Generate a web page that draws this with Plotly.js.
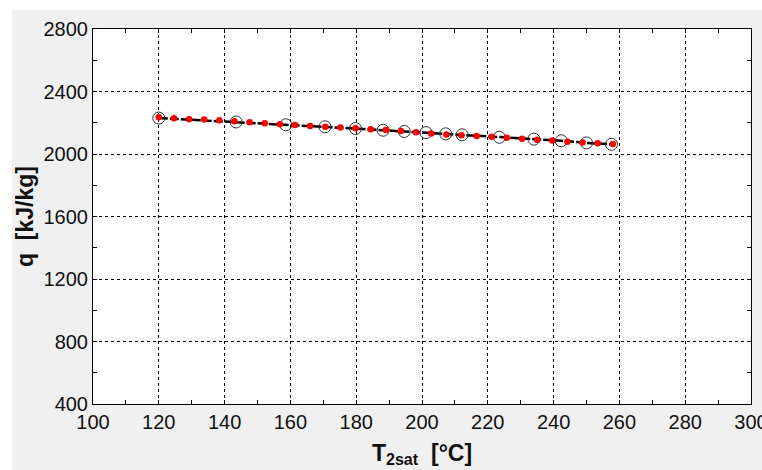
<!DOCTYPE html>
<html>
<head>
<meta charset="utf-8">
<script src="https://cdn.plot.ly/plotly-3.0.1.min.js"></script>
<style>
html,body{margin:0;padding:0;background:#ffffff;}
#chart{position:absolute;left:12px;top:10px;width:750px;height:460px;}
</style>
</head>
<body>
<div id="chart"></div>
<script>
// Open-circle series (black line)
var circT = [120, 143.5, 158.6, 170.5, 179.8, 188.2, 194.6, 201.2, 207.2, 212.2, 223.5, 234, 242.3, 250, 257.6];
var circQ = [2230, 2205, 2187, 2174, 2163, 2152, 2144, 2137, 2129, 2123, 2107, 2095, 2085, 2071, 2062];
// Red dot series
var redT = [120, 124.6, 129.2, 133.8, 138.4, 143, 147.6, 152.2, 156.8, 161.4, 166, 170.6, 175.2, 179.8, 184.4, 189, 193.6, 198.2, 202.8, 207.4, 212, 216.6, 221.2, 225.8, 230.4, 235, 239.6, 244.2, 248.8, 253.4, 258];
var redQ = [2236, 2229, 2223, 2221, 2216, 2210, 2203, 2197, 2191, 2186, 2180, 2174, 2170, 2165, 2159, 2153, 2147, 2140, 2132, 2125, 2120, 2116, 2111, 2104, 2097, 2091, 2086, 2079, 2073, 2069, 2064];
// Axis ticks
var xTicks = [100, 120, 140, 160, 180, 200, 220, 240, 260, 280, 300];
var yTicks = [400, 800, 1200, 1600, 2000, 2400, 2800];
var xTitle = 'T<sub>2sat</sub>  [°C]';
var yTitle = 'q  [kJ/kg]';

var fontFam = 'Liberation Sans, Arial, sans-serif';

var traces = [
  {
    x: circT, y: circQ, type: 'scatter', mode: 'lines+markers',
    line: {color: '#000000', width: 2.5, dash: '9px,2px'},
    marker: {symbol: 'circle-open', size: 12, color: '#333333', line: {width: 1, color: '#333333'}},
    hoverinfo: 'skip'
  },
  {
    x: redT, y: redQ, type: 'scatter', mode: 'markers',
    marker: {symbol: 'circle', size: 6.5, color: '#ff0000', line: {width: 0}},
    hoverinfo: 'skip'
  }
];

var axisCommon = {
  showline: true, linecolor: '#000000', linewidth: 1, mirror: 'ticks',
  ticks: 'inside', ticklen: 4, tickcolor: '#000000',
  showgrid: true, gridcolor: '#000000', gridwidth: 1, griddash: '3px,3px',
  zeroline: false,
  ticklabeloverflow: 'allow',
  tickfont: {family: fontFam, size: 20, color: '#111111'},
  fixedrange: true
};

var layout = {
  width: 750, height: 460,
  margin: {l: 81, r: 11, t: 19, b: 66, pad: 0},
  paper_bgcolor: '#f0f0f0', plot_bgcolor: '#ffffff',
  showlegend: false,
  xaxis: Object.assign({}, axisCommon, {
    range: [100, 300], tickmode: 'array', tickvals: xTicks, ticktext: xTicks.map(String),
    minor: {dtick: 10, tick0: 100, ticks: 'inside', ticklen: 4, tickcolor: '#000000', showgrid: false},
    title: {text: xTitle, font: {family: fontFam, size: 23, color: '#111111', weight: 'bold'}, standoff: 12}
  }),
  yaxis: Object.assign({}, axisCommon, {
    range: [400, 2800], tickmode: 'array', tickvals: yTicks, ticktext: yTicks.map(String),
    minor: {dtick: 200, tick0: 400, ticks: 'inside', ticklen: 4, tickcolor: '#000000', showgrid: false},
    title: {text: yTitle, font: {family: fontFam, size: 23, color: '#111111', weight: 'bold'}, standoff: 4}
  })
};

Plotly.newPlot('chart', traces, layout, {displayModeBar: false, staticPlot: true});
</script>
</body>
</html>
